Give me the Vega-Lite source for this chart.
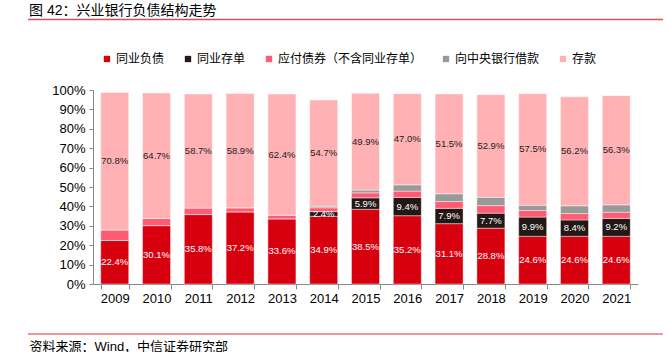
{
  "$schema": "https://vega.github.io/schema/vega-lite/v6.json",
  "width": 545,
  "height": 194,
  "autosize": {"type": "none"},
  "padding": {"left": 93, "top": 90, "right": 32, "bottom": 68},
  "background": "white",
  "config": {
    "view": {"stroke": null},
    "font": "Liberation Sans, Noto Sans CJK SC",
    "axis": {"labelFont": "Liberation Sans, Noto Sans CJK SC", "titleFont": "Liberation Sans, Noto Sans CJK SC"},
    "axisY": {"labelOverlap": false}
  },
  "title": {
    "text": "图 42：兴业银行负债结构走势",
    "anchor": "start",
    "frame": "group",
    "dx": -64,
    "offset": -13,
    "fontSize": 14,
    "fontWeight": "normal",
    "color": "#000000",
    "font": "Liberation Sans, Noto Sans CJK SC",
    "baseline": "bottom"
  },
  "datasets": {
    "liab": [
      {"year": "2009", "series": "同业负债", "k": 1, "value": 22.4},
      {"year": "2009", "series": "同业存单", "k": 2, "value": 0},
      {"year": "2009", "series": "应付债券（不含同业存单）", "k": 3, "value": 5.5},
      {"year": "2009", "series": "向中央银行借款", "k": 4, "value": 0},
      {"year": "2009", "series": "存款", "k": 5, "value": 70.8},
      {"year": "2010", "series": "同业负债", "k": 1, "value": 30.1},
      {"year": "2010", "series": "同业存单", "k": 2, "value": 0},
      {"year": "2010", "series": "应付债券（不含同业存单）", "k": 3, "value": 3.7},
      {"year": "2010", "series": "向中央银行借款", "k": 4, "value": 0},
      {"year": "2010", "series": "存款", "k": 5, "value": 64.7},
      {"year": "2011", "series": "同业负债", "k": 1, "value": 35.8},
      {"year": "2011", "series": "同业存单", "k": 2, "value": 0},
      {"year": "2011", "series": "应付债券（不含同业存单）", "k": 3, "value": 3.4},
      {"year": "2011", "series": "向中央银行借款", "k": 4, "value": 0},
      {"year": "2011", "series": "存款", "k": 5, "value": 58.7},
      {"year": "2012", "series": "同业负债", "k": 1, "value": 37.2},
      {"year": "2012", "series": "同业存单", "k": 2, "value": 0},
      {"year": "2012", "series": "应付债券（不含同业存单）", "k": 3, "value": 2.1},
      {"year": "2012", "series": "向中央银行借款", "k": 4, "value": 0},
      {"year": "2012", "series": "存款", "k": 5, "value": 58.9},
      {"year": "2013", "series": "同业负债", "k": 1, "value": 33.6},
      {"year": "2013", "series": "同业存单", "k": 2, "value": 0},
      {"year": "2013", "series": "应付债券（不含同业存单）", "k": 3, "value": 1.9},
      {"year": "2013", "series": "向中央银行借款", "k": 4, "value": 0},
      {"year": "2013", "series": "存款", "k": 5, "value": 62.4},
      {"year": "2014", "series": "同业负债", "k": 1, "value": 34.9},
      {"year": "2014", "series": "同业存单", "k": 2, "value": 2.4},
      {"year": "2014", "series": "应付债券（不含同业存单）", "k": 3, "value": 2.0},
      {"year": "2014", "series": "向中央银行借款", "k": 4, "value": 0.8},
      {"year": "2014", "series": "存款", "k": 5, "value": 54.7},
      {"year": "2015", "series": "同业负债", "k": 1, "value": 38.5},
      {"year": "2015", "series": "同业存单", "k": 2, "value": 5.9},
      {"year": "2015", "series": "应付债券（不含同业存单）", "k": 3, "value": 2.6},
      {"year": "2015", "series": "向中央银行借款", "k": 4, "value": 1.4},
      {"year": "2015", "series": "存款", "k": 5, "value": 49.9},
      {"year": "2016", "series": "同业负债", "k": 1, "value": 35.2},
      {"year": "2016", "series": "同业存单", "k": 2, "value": 9.4},
      {"year": "2016", "series": "应付债券（不含同业存单）", "k": 3, "value": 3.3},
      {"year": "2016", "series": "向中央银行借款", "k": 4, "value": 3.2},
      {"year": "2016", "series": "存款", "k": 5, "value": 47.0},
      {"year": "2017", "series": "同业负债", "k": 1, "value": 31.1},
      {"year": "2017", "series": "同业存单", "k": 2, "value": 7.9},
      {"year": "2017", "series": "应付债券（不含同业存单）", "k": 3, "value": 3.5},
      {"year": "2017", "series": "向中央银行借款", "k": 4, "value": 4.0},
      {"year": "2017", "series": "存款", "k": 5, "value": 51.5},
      {"year": "2018", "series": "同业负债", "k": 1, "value": 28.8},
      {"year": "2018", "series": "同业存单", "k": 2, "value": 7.7},
      {"year": "2018", "series": "应付债券（不含同业存单）", "k": 3, "value": 3.9},
      {"year": "2018", "series": "向中央银行借款", "k": 4, "value": 4.3},
      {"year": "2018", "series": "存款", "k": 5, "value": 52.9},
      {"year": "2019", "series": "同业负债", "k": 1, "value": 24.6},
      {"year": "2019", "series": "同业存单", "k": 2, "value": 9.9},
      {"year": "2019", "series": "应付债券（不含同业存单）", "k": 3, "value": 3.4},
      {"year": "2019", "series": "向中央银行借款", "k": 4, "value": 2.7},
      {"year": "2019", "series": "存款", "k": 5, "value": 57.5},
      {"year": "2020", "series": "同业负债", "k": 1, "value": 24.6},
      {"year": "2020", "series": "同业存单", "k": 2, "value": 8.4},
      {"year": "2020", "series": "应付债券（不含同业存单）", "k": 3, "value": 3.3},
      {"year": "2020", "series": "向中央银行借款", "k": 4, "value": 4.0},
      {"year": "2020", "series": "存款", "k": 5, "value": 56.2},
      {"year": "2021", "series": "同业负债", "k": 1, "value": 24.6},
      {"year": "2021", "series": "同业存单", "k": 2, "value": 9.2},
      {"year": "2021", "series": "应付债券（不含同业存单）", "k": 3, "value": 3.2},
      {"year": "2021", "series": "向中央银行借款", "k": 4, "value": 3.8},
      {"year": "2021", "series": "存款", "k": 5, "value": 56.3}
    ]
  },
  "layer": [
    {
      "data": {"name": "liab"},
      "transform": [
        {"stack": "value", "groupby": ["year"], "sort": [{"field": "k", "order": "ascending"}], "as": ["v0", "v1"]}
      ],
      "mark": {"type": "bar", "stroke": "white", "strokeWidth": 0.6, "strokeOpacity": 0.7},
      "encoding": {
        "x": {
          "field": "year", "type": "nominal",
          "scale": {"paddingInner": 0.33, "paddingOuter": 0.185},
          "axis": {
            "title": "资料来源：Wind，中信证券研究部",
            "titleAnchor": "start", "titleAlign": "left", "titleBaseline": "middle",
            "titleX": -64, "titleY": 62,
            "titleFontSize": 13, "titleFontWeight": "normal", "titleColor": "#000000",
            "labelAngle": 0, "labelFontSize": 13, "labelColor": "#000000", "labelPadding": 3,
            "tickBand": "extent", "tickSize": 5, "tickColor": "#888888", "domainColor": "#888888"
          }
        },
        "y": {
          "field": "v0", "type": "quantitative",
          "scale": {"domain": [0, 100]},
          "axis": {
            "title": null, "values": [0, 10, 20, 30, 40, 50, 60, 70, 80, 90, 100],
            "labelExpr": "datum.value + '%'", "labelFontSize": 13, "labelColor": "#000000",
            "labelOverlap": false,
            "labelPadding": 4, "tickSize": 4, "tickColor": "#888888", "domainColor": "#888888", "grid": false
          }
        },
        "y2": {"field": "v1"},
        "color": {
          "field": "series", "type": "nominal",
          "scale": {
            "domain": ["同业负债", "同业存单", "应付债券（不含同业存单）", "向中央银行借款", "存款"],
            "range": ["#D7000F", "#231815", "#FF5C73", "#999999", "#FFB1B4"]
          },
          "legend": {
            "title": null, "orient": "none", "direction": "horizontal",
            "legendX": 8, "legendY": -37,
            "symbolType": "square", "symbolSize": 40, "symbolStrokeWidth": 0,
            "labelFontSize": 12, "labelColor": "#000000", "labelFont": "Liberation Sans, Noto Sans CJK SC",
            "labelOffset": 3, "columnPadding": 17, "labelLimit": 300
          }
        },
        "order": {"field": "k"}
      }
    },
    {
      "data": {"name": "liab"},
      "transform": [
        {"stack": "value", "groupby": ["year"], "sort": [{"field": "k", "order": "ascending"}], "as": ["v0", "v1"]},
        {"filter": "datum.value > 0 && (datum.series === '同业负债' || datum.series === '同业存单' || datum.series === '存款')"},
        {"calculate": "(datum.v0 + datum.v1) / 2", "as": "mid"},
        {"calculate": "format(datum.value, '.1f') + '%'", "as": "label"}
      ],
      "mark": {"type": "text", "fontSize": 9.5, "font": "Liberation Sans", "baseline": "middle", "align": "center"},
      "encoding": {
        "x": {"field": "year", "type": "nominal"},
        "y": {
          "field": "mid", "type": "quantitative",
          "axis": {
            "title": null, "values": [0, 10, 20, 30, 40, 50, 60, 70, 80, 90, 100],
            "labelExpr": "datum.value + '%'", "labelFontSize": 13, "labelColor": "#000000",
            "labelOverlap": false,
            "labelPadding": 4, "tickSize": 4, "tickColor": "#888888", "domainColor": "#888888", "grid": false
          }
        },
        "text": {"field": "label"},
        "color": {
          "condition": {"test": "datum.series === '存款'", "value": "#222222"},
          "value": "#FFFFFF"
        }
      }
    },
    {
      "data": {"values": [{"pos": "top"}]},
      "mark": {"type": "rule", "color": "#E05050", "strokeWidth": 1.5},
      "encoding": {
        "x": {"value": -65}, "x2": {"value": 570}, "y": {"value": -70.5}
      }
    },
    {
      "data": {"values": [{"pos": "bottom"}]},
      "mark": {"type": "rule", "color": "#E8999B", "strokeWidth": 2},
      "encoding": {
        "x": {"value": -65}, "x2": {"value": 570}, "y": {"value": 244}
      }
    }
  ]
}
